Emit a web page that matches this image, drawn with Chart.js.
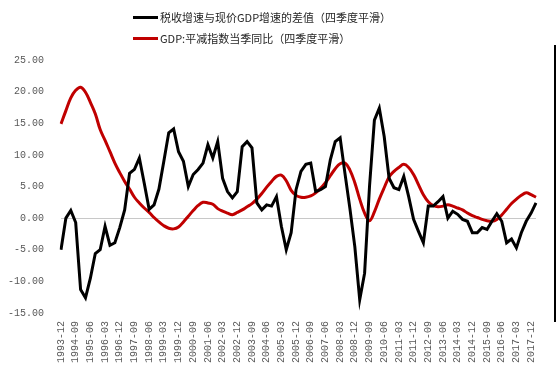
<!DOCTYPE html>
<html>
<head>
<meta charset="utf-8">
<script src="https://cdn.jsdelivr.net/npm/chart.js@4.4.0/dist/chart.umd.min.js"></script>
<style>
    html, body { margin: 0; padding: 0; background: #ffffff; }
    #wrap { position: relative; width: 556px; height: 373px; overflow: hidden; }
    #chart { position: absolute; left: 0; top: 0; }
    .legend-row {
        position: absolute; left: 133px; height: 16px;
        display: flex; align-items: center;
        font: 11px "Noto Sans CJK SC"; color: #262626; white-space: nowrap;
    }
    .legend-row .swatch { width: 25px; height: 3px; margin-right: 2px; }
    #edge { position: absolute; left: 554px; top: 45px; width: 2px; height: 277px; background: #000; }
</style>
</head>
<body>
<div id="wrap">
    <canvas id="chart" width="556" height="373"></canvas>
    <div class="legend-row" style="top:9px"><span class="swatch" style="background:#000000"></span><span id="lg0"></span></div>
    <div class="legend-row" style="top:30px"><span class="swatch" style="background:#c00000"></span><span id="lg1"></span></div>
    <div id="edge"></div>
</div>
<script>
// Tax revenue growth minus nominal GDP growth vs GDP deflator (4-quarter smoothed)

const SERIES_NAMES = [
    '税收增速与现价GDP增速的差值（四季度平滑）',
    'GDP:平减指数当季同比（四季度平滑）'
];

const QUARTERS = [
    '1993-12',
    '1994-03', '1994-06', '1994-09', '1994-12',
    '1995-03', '1995-06', '1995-09', '1995-12',
    '1996-03', '1996-06', '1996-09', '1996-12',
    '1997-03', '1997-06', '1997-09', '1997-12',
    '1998-03', '1998-06', '1998-09', '1998-12',
    '1999-03', '1999-06', '1999-09', '1999-12',
    '2000-03', '2000-06', '2000-09', '2000-12',
    '2001-03', '2001-06', '2001-09', '2001-12',
    '2002-03', '2002-06', '2002-09', '2002-12',
    '2003-03', '2003-06', '2003-09', '2003-12',
    '2004-03', '2004-06', '2004-09', '2004-12',
    '2005-03', '2005-06', '2005-09', '2005-12',
    '2006-03', '2006-06', '2006-09', '2006-12',
    '2007-03', '2007-06', '2007-09', '2007-12',
    '2008-03', '2008-06', '2008-09', '2008-12',
    '2009-03', '2009-06', '2009-09', '2009-12',
    '2010-03', '2010-06', '2010-09', '2010-12',
    '2011-03', '2011-06', '2011-09', '2011-12',
    '2012-03', '2012-06', '2012-09', '2012-12',
    '2013-03', '2013-06', '2013-09', '2013-12',
    '2014-03', '2014-06', '2014-09', '2014-12',
    '2015-03', '2015-06', '2015-09', '2015-12',
    '2016-03', '2016-06', '2016-09', '2016-12',
    '2017-03', '2017-06', '2017-09', '2017-12',
    '2018-03'
];

// black line
const TAX_GAP = [
    -5.0,
    0.0, 1.2, -0.7, -11.3,
    -12.6, -9.5, -5.6, -5.0,
    -1.3, -4.3, -3.9, -1.5,
    1.3, 7.1, 7.7, 9.5,
    5.5, 1.4, 2.1, 4.6,
    9.0, 13.5, 14.1, 10.5,
    9.0, 5.0, 6.9, 7.7,
    8.7, 11.6, 9.5, 12.1,
    6.3, 4.2, 3.2, 4.2,
    11.3, 12.1, 11.1, 2.4,
    1.3, 2.1, 1.9, 3.4,
    -1.3, -5.0, -2.3, 4.5,
    7.4, 8.5, 8.7, 4.2,
    4.5, 5.0, 9.2, 12.1,
    12.7, 7.0, 1.5, -4.5,
    -12.9, -8.7, 5.0, 15.5,
    17.4, 12.9, 6.3, 4.8,
    4.5, 6.6, 3.4, -0.2,
    -2.1, -3.9, 1.9, 1.9,
    2.6, 3.4, 0.0, 1.1,
    0.6, -0.2, -0.5, -2.3,
    -2.3, -1.5, -1.8, -0.5,
    0.7, -0.5, -3.9, -3.3,
    -4.7, -2.3, -0.5, 0.8,
    2.4
];

// red line
const DEFLATOR = [
    14.9,
    17.0, 19.0, 20.2, 20.7,
    19.9, 18.3, 16.5, 14.0,
    12.3, 10.5, 8.7, 7.2,
    5.8, 4.6, 3.3, 2.4,
    1.6, 0.9, 0.1, -0.6,
    -1.2, -1.6, -1.7, -1.4,
    -0.6, 0.3, 1.2, 2.0,
    2.5, 2.4, 2.2, 1.5,
    1.1, 0.8, 0.55, 0.9,
    1.3, 1.8, 2.3, 3.0,
    3.9, 4.9, 5.8, 6.6,
    6.8, 5.9, 4.4, 3.6,
    3.3, 3.3, 3.5, 4.0,
    4.7, 5.6, 6.7, 7.8,
    8.6, 8.7, 7.6, 5.6,
    3.0, 0.8, -0.4, 1.0,
    3.0, 4.8, 6.5, 7.4,
    8.0, 8.5, 8.0, 6.9,
    5.3, 3.7, 2.6, 2.0,
    1.8, 1.9, 2.1, 1.9,
    1.6, 1.3, 0.8, 0.4,
    0.1, -0.2, -0.4, -0.5,
    -0.2, 0.5, 1.4, 2.3,
    3.0, 3.6, 4.0, 3.7,
    3.3
];

const Y_MIN = -15;
const Y_MAX = 25;
const Y_STEP = 5;
const LABEL_EVERY = 3;

const AXIS_FONT = { family: 'Liberation Mono', size: 10 };
const AXIS_COLOR = '#595959';

document.getElementById('lg0').textContent = SERIES_NAMES[0];
document.getElementById('lg1').textContent = SERIES_NAMES[1];

const ctx = document.getElementById('chart').getContext('2d');

new Chart(ctx, {
    type: 'line',
    data: {
        labels: QUARTERS,
        datasets: [{
            label: SERIES_NAMES[0],
            data: TAX_GAP,
            borderColor: '#000000',
            borderWidth: 3,
            pointRadius: 0,
            tension: 0,
            order: 1
        }, {
            label: SERIES_NAMES[1],
            data: DEFLATOR,
            borderColor: '#c00000',
            borderWidth: 3,
            pointRadius: 0,
            tension: 0.4,
            order: 2
        }]
    },
    options: {
        responsive: false,
        animation: false,
        layout: { padding: { top: 60, left: 8, right: 17, bottom: 0 } },
        plugins: {
            legend: { display: false },
            tooltip: { enabled: false }
        },
        scales: {
            x: {
                offset: false,
                grid: { display: false, drawTicks: false },
                border: { display: false },
                ticks: {
                    autoSkip: false,
                    minRotation: 90,
                    maxRotation: 90,
                    padding: 8,
                    color: AXIS_COLOR,
                    font: AXIS_FONT,
                    callback: function (v, i) {
                        return i % LABEL_EVERY === 0 ? this.getLabelForValue(v) : '';
                    }
                },
                afterFit: (scale) => { scale.height = 60; }
            },
            y: {
                min: Y_MIN,
                max: Y_MAX,
                grid: {
                    drawTicks: false,
                    color: (c) => c.tick && c.tick.value === 0 ? '#c8c8c8' : 'rgba(0,0,0,0)',
                    lineWidth: 1
                },
                border: { display: false },
                ticks: {
                    stepSize: Y_STEP,
                    padding: 17,
                    color: AXIS_COLOR,
                    font: AXIS_FONT,
                    callback: (v) => v.toFixed(2)
                },
                afterFit: (scale) => { scale.width = 53; }
            }
        }
    }
});
</script>
</body>
</html>
